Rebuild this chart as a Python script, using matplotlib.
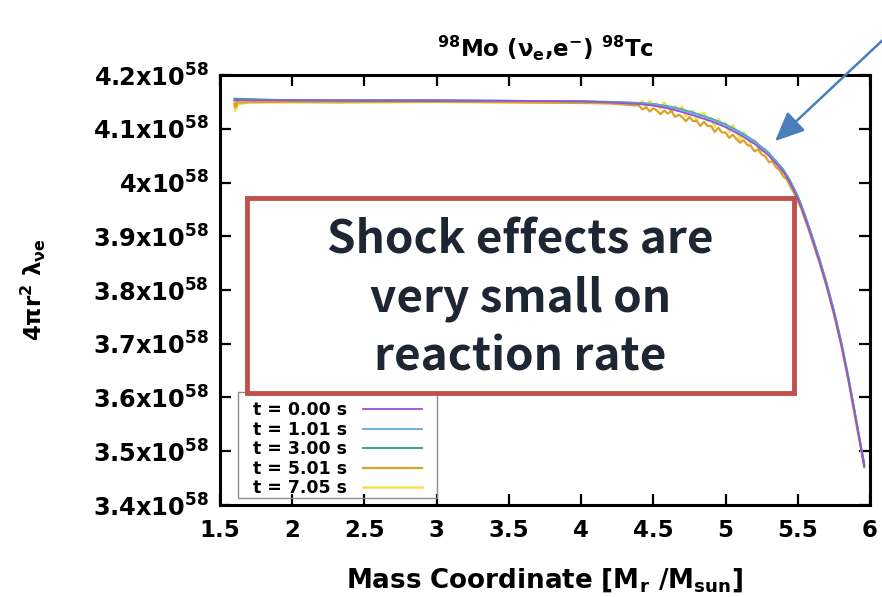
import matplotlib
matplotlib.use("Agg")
import matplotlib.pyplot as plt
from matplotlib.patches import Rectangle, FancyArrowPatch

# ---------------- data (units of 1e58) ----------------
labels = ["t = 0.00 s", "t = 1.01 s", "t = 3.00 s", "t = 5.01 s", "t = 7.05 s"]
colors = ["#9b4fd6", "#5aaee0", "#1fa08a", "#d9a326", "#f0e254"]

x_smooth = [1.6, 2.0, 2.5, 3.0, 3.5, 4.0, 4.2, 4.4, 4.5, 4.6, 4.7, 4.8, 4.9, 5.0,
            5.1, 5.2, 5.3, 5.4, 5.45, 5.5, 5.55, 5.6, 5.65, 5.7, 5.75, 5.8, 5.85,
            5.9, 5.96]
y_t000 = [4.153, 4.153, 4.153, 4.153, 4.152, 4.151, 4.149, 4.146, 4.143, 4.138, 4.131,
          4.123, 4.114, 4.103, 4.089, 4.072, 4.050, 4.020, 3.998, 3.970, 3.935, 3.895,
          3.853, 3.808, 3.757, 3.700, 3.634, 3.562, 3.475]
y_t101 = [4.154, 4.153, 4.153, 4.153, 4.152, 4.151, 4.150, 4.148, 4.146, 4.141, 4.135,
          4.127, 4.118, 4.107, 4.093, 4.076, 4.054, 4.023, 4.001, 3.973, 3.938, 3.898,
          3.856, 3.811, 3.760, 3.703, 3.637, 3.565, 3.478]
y_t300 = [4.156, 4.153, 4.152, 4.152, 4.152, 4.151, 4.150, 4.148, 4.146, 4.142, 4.136,
          4.128, 4.119, 4.108, 4.094, 4.077, 4.055, 4.024, 4.002, 3.975, 3.940, 3.900,
          3.858, 3.813, 3.762, 3.705, 3.639, 3.566, 3.470]

x_noisy = [1.6, 1.605, 1.61, 1.615, 1.62, 1.63, 1.7, 2.0, 2.3, 2.6, 3.0, 3.5, 4.0, 4.2,
           4.400, 4.425, 4.450, 4.475, 4.500, 4.525, 4.550, 4.575, 4.600, 4.625, 4.650,
           4.675, 4.700, 4.725, 4.750, 4.775, 4.800, 4.825, 4.850, 4.875, 4.900, 4.925,
           4.950, 4.975, 5.000, 5.025, 5.050, 5.075, 5.100, 5.125, 5.150, 5.175, 5.200,
           5.225, 5.250, 5.275, 5.300, 5.325, 5.350, 5.375, 5.400, 5.425, 5.450, 5.475,
           5.500, 5.525, 5.550, 5.575, 5.600, 5.65, 5.7, 5.75, 5.8, 5.85, 5.9, 5.96]
y_t501 = [4.146, 4.140, 4.149, 4.143, 4.150, 4.149, 4.149, 4.150, 4.149, 4.150, 4.150,
          4.149, 4.148, 4.147,
          4.143, 4.136, 4.140, 4.132, 4.138, 4.134, 4.127, 4.134, 4.128, 4.133, 4.122,
          4.126, 4.122, 4.114, 4.122, 4.114, 4.115, 4.105, 4.113, 4.105, 4.105, 4.094,
          4.102, 4.093, 4.093, 4.083, 4.089, 4.081, 4.074, 4.079, 4.070, 4.068, 4.058,
          4.062, 4.052, 4.049, 4.038, 4.039, 4.028, 4.023, 4.011, 4.006, 3.992, 3.980,
          3.965, 3.951, 3.931, 3.913, 3.892, 3.851, 3.806, 3.755, 3.698, 3.632, 3.558,
          3.474]
y_t705 = [4.152, 4.134, 4.150, 4.137, 4.148, 4.145, 4.150, 4.149, 4.150, 4.149, 4.150,
          4.150, 4.149, 4.148,
          4.148, 4.151, 4.141, 4.152, 4.144, 4.147, 4.137, 4.149, 4.141, 4.131, 4.142,
          4.135, 4.141, 4.124, 4.131, 4.133, 4.116, 4.127, 4.130, 4.115, 4.119, 4.104,
          4.118, 4.109, 4.110, 4.094, 4.107, 4.095, 4.080, 4.093, 4.085, 4.072, 4.079,
          4.068, 4.058, 4.062, 4.052, 4.040, 4.041, 4.029, 4.018, 4.013, 4.001, 3.983,
          3.973, 3.955, 3.934, 3.917, 3.896, 3.857, 3.810, 3.761, 3.702, 3.638, 3.562,
          3.472]

xticks = [1.5, 2, 2.5, 3, 3.5, 4, 4.5, 5, 5.5, 6]
xticklabels = ["1.5", "2", "2.5", "3", "3.5", "4", "4.5", "5", "5.5", "6"]
yticks = [3.4, 3.5, 3.6, 3.7, 3.8, 3.9, 4.0, 4.1, 4.2]
ytick_mant = ["3.4", "3.5", "3.6", "3.7", "3.8", "3.9", "4", "4.1", "4.2"]

# ---------------- style ----------------
plt.rcParams["font.family"] = ["DejaVu Sans"]
plt.rcParams["font.weight"] = "bold"
plt.rcParams["mathtext.fontset"] = "custom"
plt.rcParams["mathtext.rm"] = "DejaVu Sans:bold"
plt.rcParams["mathtext.it"] = "DejaVu Sans:bold"
plt.rcParams["mathtext.bf"] = "DejaVu Sans:bold"
plt.rcParams["mathtext.sf"] = "DejaVu Sans:bold"

W, H = 882, 597
fig = plt.figure(figsize=(W / 100, H / 100), dpi=100)
ax = fig.add_axes([220 / W, 1 - 505 / H, 650 / W, 430 / H])

series_x = [x_smooth, x_smooth, x_smooth, x_noisy, x_noisy]
series_y = [y_t000, y_t101, y_t300, y_t501, y_t705]
zorders = [6, 5, 4, 3, 2]
widths = [1.3, 1.3, 1.3, 1.6, 1.8]
handles = []
for xs, ys, c, lab, z, lw in zip(series_x, series_y, colors, labels, zorders, widths):
    h, = ax.plot(xs, ys, color=c, lw=lw, label=lab, zorder=z)
    handles.append(h)

ax.set_xlim(1.5, 6)
ax.set_ylim(3.4, 4.2)
ax.set_xticks(xticks)
ax.set_xticklabels(xticklabels)
ax.set_yticks(yticks)
ax.set_yticklabels([m + r"x10$^{58}$" for m in ytick_mant])
ax.tick_params(axis="both", direction="in", length=8, width=1.6, labelsize=16.5,
               top=True, right=True, pad=9)
ax.tick_params(axis="y", labelsize=17.3, pad=8)
ax.tick_params(axis="x", pad=10)
for s in ax.spines.values():
    s.set_linewidth(2.2)

ax.set_title(r"$^{98}$Mo ($\nu_e$,e$^{-}$) $^{98}$Tc", fontsize=16.5, fontweight="bold", pad=13)
ax.set_xlabel(r"Mass Coordinate [M$_r$ /M$_{sun}$]", fontsize=18.8, fontweight="bold",
              labelpad=17)
ax.set_ylabel(r"4$\pi$r$^2$ $\lambda_{\nu e}$", fontsize=16.5, fontweight="bold", labelpad=32)

# legend (frame drawn separately to mimic gnuplot key box)
leg = ax.legend(handles=handles, loc="lower right",
                bbox_to_anchor=(422 / W, 1 - 497 / H), bbox_transform=fig.transFigure,
                markerfirst=False, fontsize=12.5, frameon=False,
                handlelength=3.4, handletextpad=0.9, labelspacing=0.08,
                borderpad=0, borderaxespad=0)
for t in leg.get_texts():
    t.set_fontweight("bold")
leg.set_zorder(9)
fig.add_artist(Rectangle((238 / W, 1 - 498 / H), (437 - 238) / W, (498 - 392) / H,
                         transform=fig.transFigure, facecolor="none",
                         edgecolor="#8c8c8c", linewidth=1.0, zorder=8))

# red annotation box
rect = Rectangle((247 / W, 1 - 393 / H), (794 - 247) / W, (393 - 198) / H,
                 transform=fig.transFigure, facecolor="white", edgecolor="#c0504d",
                 linewidth=3.5, zorder=10)
fig.add_artist(rect)
fig.text((247 + 794) / 2 / W, 1 - 299 / H, "Shock effects are\nvery small on\nreaction rate",
         ha="center", va="center", fontsize=33, fontweight="bold", color="#1e2633",
         family=["Noto Sans CJK KR", "DejaVu Sans"], linespacing=1.33, zorder=11)

# blue arrow
fig.add_artist(FancyArrowPatch(
    (886 / W, 1 - 37 / H), (773 / W, 1 - 143 / H), transform=fig.transFigure,
    arrowstyle="-|>,head_length=18,head_width=8", color="#4a7ebb", lw=1.8,
    mutation_scale=1, zorder=12))

fig.savefig("out.png", dpi=100, facecolor="white")
